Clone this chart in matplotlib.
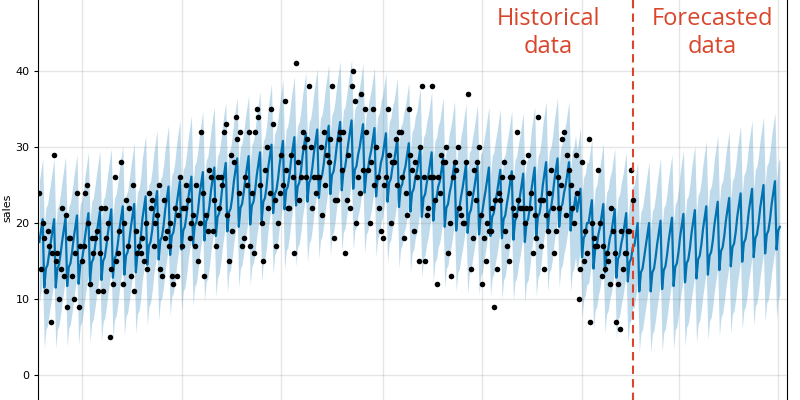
import numpy as np
import pandas as pd
import matplotlib
matplotlib.use("Agg")
import matplotlib.pyplot as plt
import matplotlib.dates as mdates


# observed daily sales, one row per week (history)
sales_weeks = [
    [24, 14, 20, 18, 11, 19, 17], [7, 16, 29, 15, 16, 10, 14], [22, 13, 21, 9, 18, 18, 13],
    [10, 16, 24, 9, 17, 15, 17], [24, 25, 20, 12, 18, 16, 18], [19, 11, 16, 22, 11, 22, 18],
    [20, 5, 14, 12, 26, 15, 16], [19, 28, 12, 20, 23, 17, 22], [13, 25, 11, 19, 16, 17, 16],
    [18, 15, 20, 14, 24, 22, 23], [17, 20, 21, 25, 14, 13, 23], [18, 19, 17, 20, 13, 12, 22],
    [13, 21, 26, 17, 22, 22, 25], [23, 18, 20, 21, 17, 25, 15], [20, 32, 24, 13, 21, 19, 27],
    [26, 19, 23, 17, 26, 22, 26], [25, 32, 33, 21, 15, 29, 19], [28, 34, 31, 24, 32, 17, 18],
    [26, 25, 32, 17, 24, 16, 32], [35, 34, 25, 20, 15, 27, 30], [22, 24, 35, 33, 23, 17, 20],
    [24, 29, 25, 36, 27, 22, 22], [29, 26, 16, 41, 28, 23, 26], [32, 30, 26, 31, 38, 30, 22],
    [26, 24, 26, 26, 30, 21, 32], [25, 29, 28, 31, 38, 18, 23], [23, 31, 32, 27, 32, 16, 23],
    [29, 22, 38, 40, 36, 20, 26], [24, 37, 27, 35, 32, 27, 20], [28, 35, 25, 30, 26, 22, 19],
    [18, 25, 26, 35, 29, 20, 28], [28, 31, 25, 32, 32, 26, 18], [24, 21, 35, 29, 27, 19, 28],
    [26, 15, 30, 38, 26, 15, 21], [22, 26, 38, 26, 23, 12, 26], [24, 29, 28, 28, 30, 16, 20],
    [13, 26, 28, 27, 30, 22, 21], [20, 20, 28, 37, 24, 14, 18], [27, 23, 28, 30, 21, 12, 18],
    [15, 20, 19, 19, 22, 9, 23], [14, 24, 23, 26, 28, 19, 17], [15, 26, 26, 22, 21, 32, 23],
    [22, 22, 28, 20, 22, 29, 22], [24, 16, 21, 18, 34, 23, 17], [23, 14, 21, 19, 24, 27, 22],
    [16, 19, 26, 22, 25, 31, 32], [21, 29, 27, 25, 22, 20, 29], [24, 10, 14, 28, 15, 19, 16],
    [31, 7, 20, 18, 17, 17, 27], [20, 13, 17, 14, 16, 15, 12], [22, 19, 16, 7, 12, 6, 19],
    [14, 16, 16, 19, 19, 27, 23],
]

# model components: weekly trend level (history + 90 day forecast) and day-of-week effect
weekly_level = [
    16.0, 16.0, 16.2, 16.5, 16.8, 17.0, 17.3, 17.7, 18.0, 19.0,
    19.7, 20.3, 21.0, 21.6, 22.2, 22.8, 23.4, 24.0, 24.3, 24.8,
    25.8, 26.3, 26.8, 27.3, 27.8, 28.3, 28.8, 29.0, 28.5, 28.0,
    27.3, 26.6, 26.0, 25.3, 24.8, 24.0, 23.5, 23.2, 23.0, 22.8,
    22.5, 22.3, 22.0, 22.8, 23.5, 24.0, 23.5, 20.0, 18.5, 18.0,
    17.3, 16.8,
    15.5, 15.5, 15.8, 16.2, 16.7, 17.2, 17.7, 18.3, 18.8, 19.4,
    20.0, 20.5, 21.0,
]
weekday_effect = [1.5, 3.0, 4.5, -4.5, -2.0, -1.5, 0.0]
band_half = [8.0] * 52 + [8.0, 8.1, 8.2, 8.3, 8.4, 8.5, 8.6, 8.7, 8.8, 8.9, 9.0, 9.0, 9.0]

start = "2017-02-03"
forecast_days = 90

sales = np.array(sales_weeks).ravel()
hist_dates = pd.date_range(start, periods=len(sales), freq="D")
all_dates = pd.date_range(start, periods=len(sales) + forecast_days, freq="D")

day = np.arange(len(all_dates))
yhat = np.array(weekly_level)[day // 7] + np.array(weekday_effect)[day % 7]
half = np.array(band_half)[day // 7]

red = "#D9462B"

fig = plt.figure(figsize=(8, 4), dpi=100)
ax = fig.add_axes([0.048, -0.061, 0.936, 1.083])

ax.fill_between(all_dates, yhat - half, yhat + half, color="#0072B2", alpha=0.25, lw=0)
ax.plot(all_dates, yhat, color="#0072B2", lw=1.6)
ax.plot(hist_dates, sales, "o", color="black", ms=4.0, mew=0)

ax.axvline(hist_dates[-1], color=red, ls=(0, (4, 2.5)), lw=1.5)

ax.text(0.681, 0.904, "Historical\ndata", transform=ax.transAxes, ha="center", va="center",
        color=red, fontsize=17, family="Open Sans", linespacing=1.25)
ax.text(0.900, 0.904, "Forecasted\ndata", transform=ax.transAxes, ha="center", va="center",
        color=red, fontsize=17, family="Open Sans", linespacing=1.25)

ax.set_ylim(-6.5, 50.5)
ax.set_xlim(mdates.date2num(pd.Timestamp(start)) - 0.6, mdates.date2num(pd.Timestamp(start)) + 457.5)
ax.set_yticks([0, 10, 20, 30, 40])
ax.xaxis.set_major_locator(mdates.MonthLocator(bymonth=[1, 3, 5, 7, 9, 11]))
ax.grid(True, which="major", color="gray", ls="-", lw=1, alpha=0.2)
ax.tick_params(labelsize=8, length=3, width=0.8)
ax.tick_params(axis="x", labelbottom=False)
ax.set_ylabel("sales", fontsize=8, labelpad=2)
for s in ax.spines.values():
    s.set_linewidth(0.8)

fig.savefig("out.png", dpi=100)
